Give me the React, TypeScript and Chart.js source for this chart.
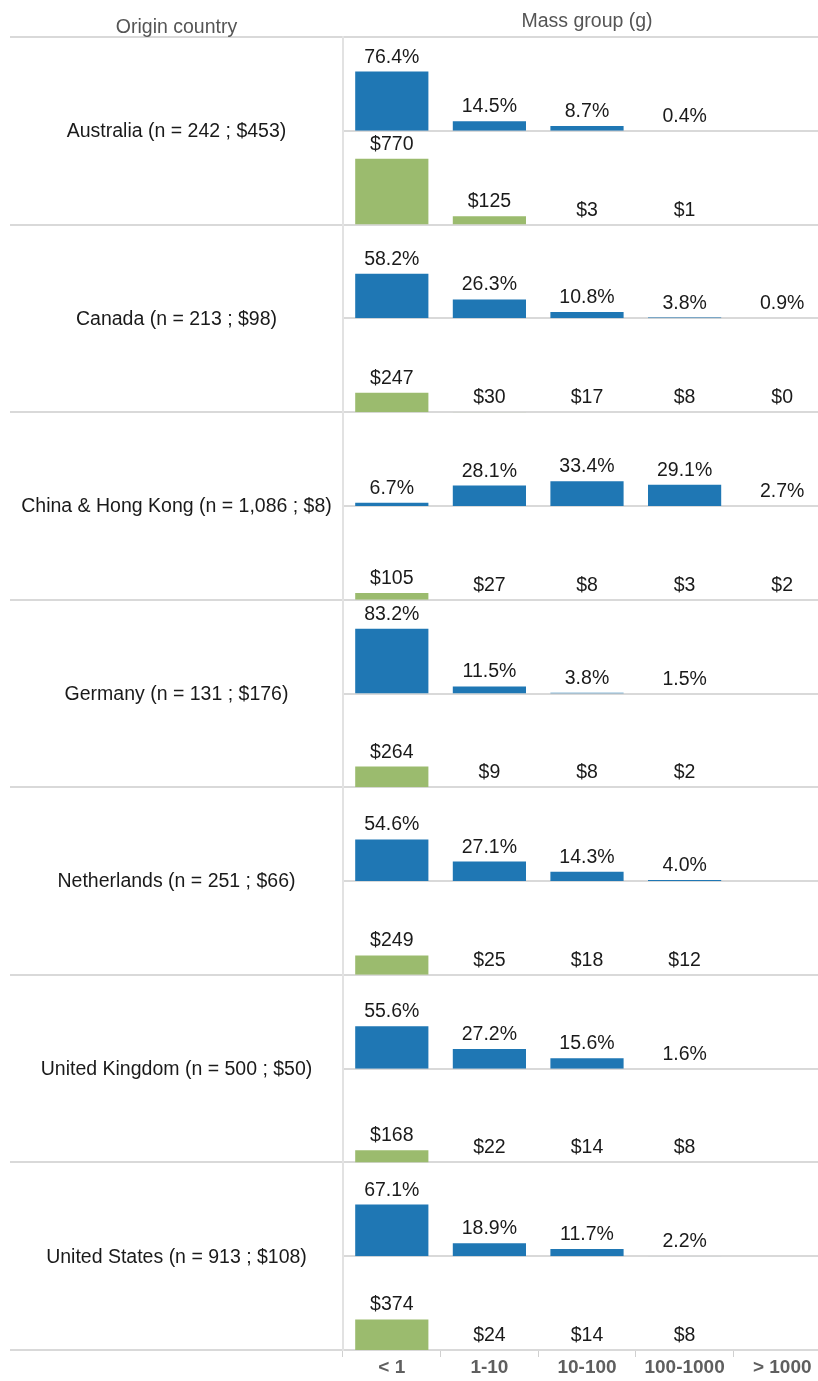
import React, { useEffect, useRef } from 'react';
import { Chart, registerables } from 'chart.js';

Chart.register(...registerables);

// ---- data ----
const massGroups = ['< 1', '1-10', '10-100', '100-1000', '> 1000'];
const countryNames = [
  'Australia',
  'Canada',
  'China & Hong Kong',
  'Germany',
  'Netherlands',
  'United Kingdom',
  'United States',
];
const sampleSizes = ['242', '213', '1,086', '131', '251', '500', '913'];
const countryPrices = [453, 98, 8, 176, 66, 50, 108];

const australiaShare = [76.4, 14.5, 8.7, 0.4, null];
const australiaPrice = [770, 125, 3, 1, null];
const canadaShare = [58.2, 26.3, 10.8, 3.8, 0.9];
const canadaPrice = [247, 30, 17, 8, 0];
const chinaShare = [6.7, 28.1, 33.4, 29.1, 2.7];
const chinaPrice = [105, 27, 8, 3, 2];
const germanyShare = [83.2, 11.5, 3.8, 1.5, null];
const germanyPrice = [264, 9, 8, 2, null];
const netherlandsShare = [54.6, 27.1, 14.3, 4.0, null];
const netherlandsPrice = [249, 25, 18, 12, null];
const ukShare = [55.6, 27.2, 15.6, 1.6, null];
const ukPrice = [168, 22, 14, 8, null];
const usShare = [67.1, 18.9, 11.7, 2.2, null];
const usPrice = [374, 24, 14, 8, null];

const shareRows = [australiaShare, canadaShare, chinaShare, germanyShare, netherlandsShare, ukShare, usShare];
const priceRows = [australiaPrice, canadaPrice, chinaPrice, germanyPrice, netherlandsPrice, ukPrice, usPrice];

const shareAxisRange = [2.75, 119.5];
const priceAxisRange = [30, 1086];

const headerLeft = 'Origin country';
const headerRight = 'Mass group (g)';

// ---- styles ----
const FONT = '"Liberation Sans", Arial, Helvetica, sans-serif';
const TEXT_SIZE = 19.5;
const BLUE = '#1f77b4';
const GREEN = '#9bbb6e';
const GRID = '#d9d9d9';
const LEFT_W = 333;
const PAD_LEFT = 10;

export default function App() {
  const ref = useRef<HTMLCanvasElement>(null);

  useEffect(() => {
    document.body.style.margin = '0';
    document.body.style.background = '#ffffff';
    const canvas = ref.current;
    if (!canvas) return;

    const scales: any = {
      x: {
        type: 'category',
        position: 'bottom',
        offset: true,
        grid: { offset: true, drawOnChartArea: false, color: '#d0d0d0', lineWidth: 1, tickLength: 7 },
        border: { display: false },
        ticks: {
          font: { family: FONT, size: 19, weight: 'bold' },
          color: '#5f5f5f',
          padding: -1,
          maxRotation: 0,
          autoSkip: false,
        },
        afterFit: (s: any) => {
          s.height = 31;
        },
      },
    };

    const datasets: any[] = [];
    countryNames.forEach((name, ci) => {
      [0, 1].forEach((k) => {
        const idx = ci * 2 + k;
        const id = 'p' + idx;
        const isShare = k === 0;
        const [mn, mx] = isShare ? shareAxisRange : priceAxisRange;
        const isTop = idx === 0;
        scales[id] = {
          type: 'linear',
          position: 'left',
          stack: 'rows',
          stackWeight: 1,
          weight: 100 - idx,
          min: mn,
          max: mx,
          afterBuildTicks: (s: any) => {
            s.ticks = isTop ? [{ value: mn }, { value: mx }] : [{ value: mn }];
          },
          afterFit: (s: any) => {
            s.width = LEFT_W;
          },
          ticks: { display: false },
          grid: {
            color: GRID,
            lineWidth: 2,
            drawTicks: true,
            tickLength: LEFT_W,
            tickColor: (c: any) =>
              !isShare || (c.tick && c.tick.value === mx) ? GRID : 'rgba(0,0,0,0)',
          },
          border: { display: true, color: '#e2e2e2', width: 2 },
        };
        datasets.push({
          label: name + (isShare ? ' share' : ' price'),
          kind: isShare ? 'share' : 'price',
          data: isShare ? shareRows[ci] : priceRows[ci],
          xAxisID: 'x',
          yAxisID: id,
          backgroundColor: isShare ? BLUE : GREEN,
          borderWidth: 0,
          grouped: false,
          barPercentage: 0.75,
          categoryPercentage: 1,
        });
      });
    });

    const decor = {
      id: 'decor',
      beforeDatasetDraw(chart: any, args: any) {
        const s = chart.scales[args.meta.yAxisID];
        const ctx = chart.ctx;
        ctx.save();
        ctx.beginPath();
        ctx.rect(chart.chartArea.left, s.top, chart.chartArea.right - chart.chartArea.left, s.bottom - s.top);
        ctx.clip();
      },
      afterDatasetDraw(chart: any) {
        chart.ctx.restore();
      },
      afterDatasetsDraw(chart: any) {
        const ctx = chart.ctx;
        ctx.save();
        ctx.font = `${TEXT_SIZE}px ${FONT}`;
        ctx.fillStyle = '#1a1a1a';
        ctx.textAlign = 'center';
        ctx.textBaseline = 'alphabetic';
        chart.data.datasets.forEach((ds: any, di: number) => {
          const meta = chart.getDatasetMeta(di);
          const s = chart.scales[ds.yAxisID];
          ds.data.forEach((v: number | null, i: number) => {
            if (v == null) return;
            const el = meta.data[i];
            const top = Math.min(el.y, s.bottom);
            const text = ds.kind === 'share' ? v.toFixed(1) + '%' : '$' + v;
            ctx.fillText(text, el.x, top - 9);
          });
        });
        ctx.restore();
      },
      afterDraw(chart: any) {
        const ctx = chart.ctx;
        const area = chart.chartArea;
        ctx.save();
        ctx.font = `${TEXT_SIZE}px ${FONT}`;
        ctx.textAlign = 'center';
        ctx.textBaseline = 'alphabetic';
        ctx.fillStyle = '#555555';
        ctx.fillText(headerLeft, PAD_LEFT + LEFT_W / 2, 33);
        ctx.fillText(headerRight, (area.left + area.right) / 2, 27);
        ctx.fillStyle = '#1a1a1a';
        ctx.textBaseline = 'middle';
        countryNames.forEach((name, ci) => {
          const top = chart.scales['p' + ci * 2].top;
          const bottom = chart.scales['p' + (ci * 2 + 1)].bottom;
          const label = `${name} (n = ${sampleSizes[ci]} ; $${countryPrices[ci]})`;
          ctx.fillText(label, PAD_LEFT + LEFT_W / 2, (top + bottom) / 2 + 1);
        });
        ctx.restore();
      },
    };

    const chart = new Chart(canvas, {
      type: 'bar',
      data: { labels: massGroups, datasets },
      options: {
        responsive: false,
        animation: false,
        devicePixelRatio: 1,
        layout: { padding: { top: 37, left: PAD_LEFT, right: 1, bottom: 0 } },
        plugins: { legend: { display: false }, tooltip: { enabled: false } },
        scales,
      } as any,
      plugins: [decor],
    });

    return () => chart.destroy();
  }, []);

  return (
    <div style={{ width: 818, height: 1381, overflow: 'hidden', position: 'relative', background: '#fff' }}>
      <canvas ref={ref} width={832} height={1381} style={{ display: 'block' }} />
    </div>
  );
}
